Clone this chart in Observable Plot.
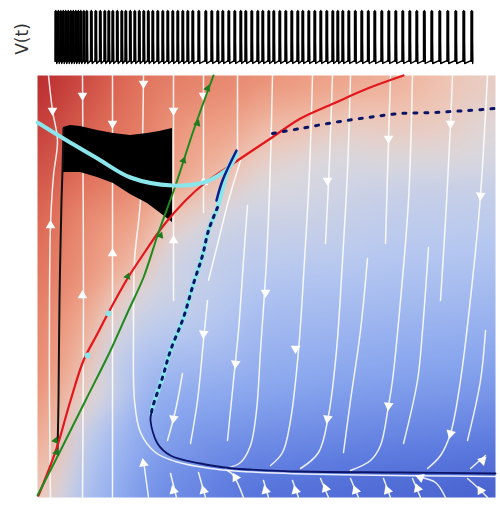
<!DOCTYPE html>
<html><head><meta charset="utf-8">
<script src="https://cdn.jsdelivr.net/npm/d3@7"></script>
<script src="https://cdn.jsdelivr.net/npm/@observablehq/plot@0.6"></script>
<style>body{margin:0;background:#fff;font-family:"DejaVu Sans",sans-serif}#c svg{display:block}</style>
</head><body><div id="c"></div><script>
// ---- V(t) trace: spike times (arbitrary time units)
const spikeTimes = [0,2.5,5,7.5,10,12.5,15,17.5,20,22.5,25,28,
 31,35.5,40,44.5,49,53,57,61.5,66,70,74.5,79,83.5,88,92.5,97,102,107,112,117,122,127,132,137,143,
 150,156,162,167,173,179,185,190,196,202,207,213,218,224,230,236,242,247,253,259,265,271,277,282,287,
 293,299.5,306,312.5,319,326,333,340,347,354,361,368.5,376,384,392,400,408,416];

// ---- phase plane (arbitrary units)
const bgX = [0,113,228,343,458, 0,113,228,343,458, 0,58,113,228,343,458, 0,33,113,228,343,458, 0,43,113,228,343,458, 46,103,168,263,20, 73,133,198,293,45];
const bgY = [422,422,422,422,422, 317,317,317,317,317, 212,212,212,212,212,212, 107,107,107,107,107,107, 0,0,0,0,0,0, 137,239,315,379,52, 137,239,297,347,52];
const bgV = [1.0,0.72,0.6,0.45,0.15, 0.85,0.6,0.0,-0.1,-0.12, 0.72,0.5,-0.05,-0.27,-0.3,-0.33, 0.6,0.3,-0.42,-0.5,-0.55,-0.58, 0.25,-0.3,-0.62,-0.8,-0.85,-0.9, 0.35,0.35,0.35,0.35,0.3, -0.15,-0.1,-0.05,0.0,-0.2];

const redNull = [[1,2],[11,27],[20,52],[33,97],[46,137],[59,162],[71,185],[90,219],[103,239],[126,272],[148,297],[168,315],[200,337],[233,359],[263,379],[296,394],[330,409],[366,422]];
const greenNull = [[0,2],[23,47],[48,97],[73,147],[91,187],[106,220],[121,265],[138,312],[156,367],[176,422]];
const cyanTop = [[0,375],[26,359],[60,339],[93,320],[135,312],[166,315],[181,322],[193,332],[199,342]];
const cyanDown = [[199,345],[191,330],[180,290],[171,267],[165,242],[156,214],[146,180],[133,147],[125,120],[115,90],[114,85]];
const navySolid = [[199,347],[185,317],[179,297]];
const navyDotDown = [[180,290],[171,267],[165,242],[156,214],[146,180],[133,147],[125,120],[115,90],[114,85]];
const navyManifold = [[114,85],[113,77],[120,54],[133,42],[163,34],[196,29],[213,28],[263,26],[363,25],[458,24]];
const navyDotTop = [[235,364],[263,369],[296,375],[330,380],[363,384],[396,385],[430,387],[458,389]];
const trajLine = [[20,45],[21,97],[22,197],[24,297],[25,327],[26,369]];
const bandX  = [26,33,43,60,76,93,110,122,135];
const bandLo = [325,325,325,320,314,303,294,285,275];
const bandHi = [370,372,371,367,364,362,364,366,369];

const streamlines = [
 [[11,422],[15,387],[20,357],[16,322],[13,272],[12,197],[12,97],[13,0]],
 [[45,422],[46,197],[45,0]],
 [[75,422],[75,197],[75,0]],
 [[106,422],[103,297],[97,237],[96,167],[97,97],[103,65],[118,45],[138,36],[173,29],[223,25],[458,21]],
 [[136,422],[136,197]],
 [[166,422],[166,285]],
 [[200,422],[200,340]],
 [[235,422],[233,337],[229,237],[223,147],[219,87],[213,52],[203,35],[188,29]],
 [[275,422],[272,327],[267,237],[261,147],[253,77],[245,45],[233,32]],
 [[295,422],[292,337],[288,254]],
 [[313,422],[310,327],[305,237],[299,147],[291,82],[281,45],[263,29]],
 [[330,239],[323,167],[313,97],[306,45]],
 [[353,422],[351,357],[348,254]],
 [[375,422],[371,297],[363,197],[355,117],[351,92],[343,52],[333,37],[313,27]],
 [[391,250],[385,167],[380,117],[366,54]],
 [[415,422],[413,374],[408,277],[403,197]],
 [[450,422],[443,302],[436,227],[423,117],[413,64],[403,42],[390,29]],
 [[448,167],[443,117],[430,57]],
 [[170,197],[166,157],[160,97],[153,54]],
 [[145,124],[138,87],[130,57]],
 [[210,292],[206,237],[201,167],[196,117],[190,57]],
 [[203,337],[191,297],[181,257],[171,217]],
 [[111,0],[106,37]],[[139,0],[133,24]],[[168,0],[161,25]],[[206,0],[196,22],[190,27]],
 [[231,0],[226,17]],[[261,0],[255,17]],[[291,0],[283,19]],[[321,0],[313,19]],[[353,0],[346,19]],
 [[383,0],[375,19]],[[408,0],[398,15],[383,20]],[[450,0],[438,12],[430,19]],[[433,29],[448,42]]
];
const arrowX = [15,13,45,45,75,75,106,136,136,166,166,228,258,290,290,351,351,413,443,413,166,136,198,
 106,136,166,198,228,258,288,318,350,380,383,443,445];
const arrowY = [387,272,402,202,374,244,414,387,257,402,315,205,149,317,79,359,92,374,302,64,164,79,134,
 34,7,7,20,7,7,9,7,7,9,20,7,37];
const arrowDir = [180,0,180,0,180,0,180,180,0,180,0,180,180,180,190,180,185,180,185,195,185,190,185,
 -10,-15,-15,-30,-15,-15,-20,-20,-20,-20,-70,-30,45];
const greenMarks = [[170,409],[160,374],[146,337],[123,262],[18,57],[19,45],[90,221]];
const cyanMarks = [[50,142],[71,184]];

// ---------- build
const pts = a => a.map(([x,y]) => ({x,y}));
const trace = [];
spikeTimes.forEach(s => { trace.push({t:s,v:0.06},{t:s+0.3,v:1},{t:s+1.2,v:0}); });

const topChart = Plot.plot({
  width:500, height:72, marginLeft:55, marginRight:27, marginTop:10, marginBottom:9,
  x:{domain:[0,418], axis:null}, y:{domain:[0,1], axis:null},
  marks:[
    Plot.line(trace,{x:"t",y:"v",stroke:"#000",strokeWidth:1.4}),
    Plot.ruleX(spikeTimes,{x:d=>d+0.3,y1:0.02,y2:0.98,stroke:"#000",strokeWidth:3}),
    Plot.text(["V(t)"],{frameAnchor:"left",textAnchor:"middle",dx:-33,dy:2,rotate:-90,fontSize:17,fill:"#333",fontFamily:"DejaVu Sans"})
  ]
});

const bg = bgX.map((x,i)=>({x, y:bgY[i], v:bgV[i]}));
const stream = streamlines.flatMap((s,id)=>s.map(([x,y])=>({x,y,id})));
const arrows = arrowX.map((x,i)=>({x,y:arrowY[i],r:arrowDir[i]}));
const band = bandX.map((x,i)=>({x,lo:bandLo[i],hi:bandHi[i]}));

const mainChart = Plot.plot({
  width:500, height:433, marginLeft:37, marginRight:5, marginTop:3, marginBottom:8,
  x:{domain:[0,458], axis:null}, y:{domain:[0,422], axis:null},
  color:{type:"linear", domain:[-1,-0.75,-0.5,-0.25,0,0.25,0.5,0.75,1],
         range:["#3a4fc2","#5a78de","#89a6ee","#b5c7f0","#dcd9dd","#efc5b4","#eea086","#e0705a","#b8282c"]},
  marks:[
    Plot.raster(bg,{x:"x",y:"y",fill:"v",interpolate:"barycentric",x1:0,x2:458,y1:0,y2:422,blur:12}),
    Plot.line(stream,{x:"x",y:"y",z:"id",stroke:"#ffffff",strokeOpacity:0.88,strokeWidth:1.5,curve:"catmull-rom"}),
    Plot.dot(arrows,{x:"x",y:"y",rotate:"r",symbol:"triangle",r:3.6,fill:"#ffffff",stroke:null}),
    Plot.areaY(band,{x:"x",y1:"lo",y2:"hi",fill:"#000"}),
    Plot.line(pts(trajLine),{x:"x",y:"y",stroke:"#111",strokeWidth:2,curve:"catmull-rom"}),
    Plot.line(pts(redNull),{x:"x",y:"y",stroke:"#e4161c",strokeWidth:2.2,curve:"catmull-rom"}),
    Plot.line(pts(greenNull),{x:"x",y:"y",stroke:"#1e8a1e",strokeWidth:2,curve:"catmull-rom"}),
    Plot.line(pts(cyanTop),{x:"x",y:"y",stroke:"#8ae6ea",strokeWidth:4,curve:"catmull-rom"}),
    Plot.line(pts(cyanDown),{x:"x",y:"y",stroke:"#8ae6ea",strokeWidth:4.5,curve:"catmull-rom"}),
    Plot.line(pts(navySolid),{x:"x",y:"y",stroke:"#0d1f8a",strokeWidth:2.5,curve:"catmull-rom"}),
    Plot.line(pts(navyDotDown),{x:"x",y:"y",stroke:"#0b1466",strokeWidth:3,strokeDasharray:"2.5,6",curve:"catmull-rom"}),
    Plot.line(pts(navyManifold),{x:"x",y:"y",stroke:"#0b1466",strokeWidth:1.8,curve:"catmull-rom"}),
    Plot.line(pts(navyDotTop),{x:"x",y:"y",stroke:"#0b1466",strokeWidth:3,strokeDasharray:"3,8",curve:"catmull-rom"}),
    Plot.dot(pts(greenMarks),{x:"x",y:"y",symbol:"triangle",r:2.8,fill:"#1e7a1e",rotate:20}),
    Plot.dot(pts(cyanMarks),{x:"x",y:"y",r:3,fill:"#8ae6ea"})
  ]
});

const c = document.getElementById("c");
c.appendChild(topChart); c.appendChild(mainChart);
</script></body></html>
